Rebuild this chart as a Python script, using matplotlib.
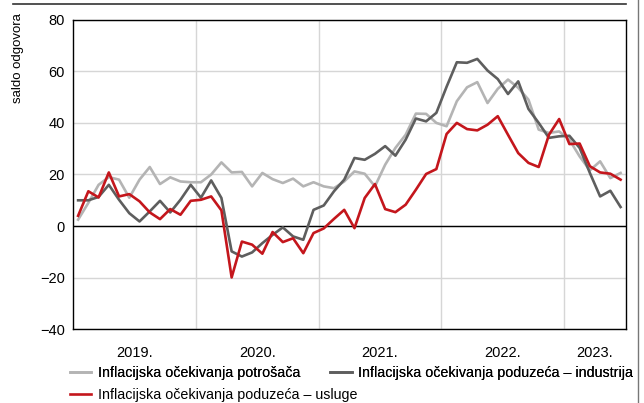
import numpy as np
import matplotlib.pyplot as plt
from matplotlib.lines import Line2D

plt.rcParams['font.family'] = ['Liberation Sans', 'DejaVu Sans']
plt.rcParams['font.size'] = 10

# mjesečni podaci, siječanj 2019. - lipanj 2023.
potrosaci = [2.5, 9, 16, 19, 18, 11, 18, 22.9, 16.3, 18.9, 17.3, 17, 17, 20, 24.7, 20.8,
             21, 15.4, 20.6, 18.2, 16.7, 18.4, 15.4, 17, 15.4, 14.7, 17.3, 21.2, 20.3, 15.4,
             23.8, 30.3, 35.4, 43.6, 43.5, 40, 38.7, 48.4, 53.8, 55.8, 47.7, 53.2, 56.8, 53.6,
             49, 37.4, 36.1, 36.7, 33.5, 27, 21.6, 25.1, 18.6, 20.6]
industrija = [10, 10, 11.3, 16, 10.2, 5, 1.8, 5.7, 9.8, 5.3, 10.2, 16, 11, 17.7, 10.9, -9.8,
              -11.8, -10.2, -6.6, -3.4, -0.5, -4, -5.3, 6.3, 8, 13.5, 18, 26.4, 25.7, 28,
              31, 27.3, 33.5, 41.7, 40.6, 43.9, 54, 63.5, 63.3, 64.8, 60.3, 57, 51.2, 56.1,
              45.4, 40, 34.2, 34.8, 35, 30.3, 20.6, 11.5, 13.7, 7.4]
usluge = [4, 13.5, 11.1, 20.8, 11.5, 12.4, 9.6, 5.3, 2.7, 6.6, 4.4, 9.8, 10.2, 11.5, 6.1, -19.9,
          -6, -7.2, -10.7, -2.3, -6.2, -4.7, -10.5, -2.7, -0.9, 2.8, 6.3, -0.8, 10.9, 16.3,
          6.6, 5.4, 8.3, 14.1, 20.2, 22.1, 35.7, 40, 37.6, 37.1, 39.3, 42.6, 35.4, 28.3,
          24.5, 22.9, 35.4, 41.5, 31.8, 32, 23.2, 20.8, 20.3, 18]
godine = ['2019.', '2020.', '2021.', '2022.', '2023.']

svijetlo = '#b4b4b4'
tamno = '#5e5e5e'
crveno = '#c4161c'

x = np.arange(len(usluge)) + 0.5

fig = plt.figure(figsize=(6.44, 4.03), dpi=100)
ax = fig.add_axes([73 / 644, 1 - 329.3 / 403, 552.7 / 644, 309.6 / 403])

l1, = ax.plot(x, potrosaci, color=svijetlo, lw=1.9, label='Inflacijska očekivanja potrošača')
l2, = ax.plot(x, industrija, color=tamno, lw=1.9, label='Inflacijska očekivanja poduzeća – industrija')
l3, = ax.plot(x, usluge, color=crveno, lw=1.9, label='Inflacijska očekivanja poduzeća – usluge')

ax.set_xlim(0, 54)
ax.set_ylim(-40, 80)
ax.set_yticks(range(-40, 81, 20))
ax.axhline(0, color='black', lw=1, zorder=1)

# godišnje granice kao minor tickovi, oznake godina u sredini
ax.set_xticks([12, 24, 36, 48], minor=True)
ax.set_xticks([6, 18, 30, 42, 51])
ax.set_xticklabels(godine)
ax.grid(True, which='minor', axis='x', color='#d6d6d6', lw=1)
ax.grid(True, which='major', axis='y', color='#d6d6d6', lw=1)
ax.set_axisbelow(True)
ax.tick_params(which='both', length=0, labelsize=10.5)
ax.tick_params(axis='x', pad=12)
ax.tick_params(axis='y', pad=6)
for s in ax.spines.values():
    s.set_linewidth(1)

fig.text(18 / 644, 1 - 58 / 403, 'saldo odgovora', rotation=90, ha='center', va='center', fontsize=9.5)

# okvir slike
fig.add_artist(Line2D([13 / 644, 626 / 644], [1 - 4 / 403] * 2, color='#333333', lw=1.2))
fig.add_artist(Line2D([638 / 644] * 2, [0, 1], color='#777777', lw=1))

leg_kw = dict(loc='upper left', frameon=False, fontsize=10.3, handlelength=1.5,
              handletextpad=0.45, borderpad=0, borderaxespad=0)
leg1 = fig.legend([l1, l2], [l1.get_label(), l2.get_label()], ncol=2,
                  bbox_to_anchor=(70 / 644, 1 - 366 / 403), columnspacing=2.1, **leg_kw)
fig.legend([l3], [l3.get_label()], bbox_to_anchor=(70 / 644, 1 - 388 / 403), **leg_kw)
fig.add_artist(leg1)

plt.savefig('out.png', dpi=100)
